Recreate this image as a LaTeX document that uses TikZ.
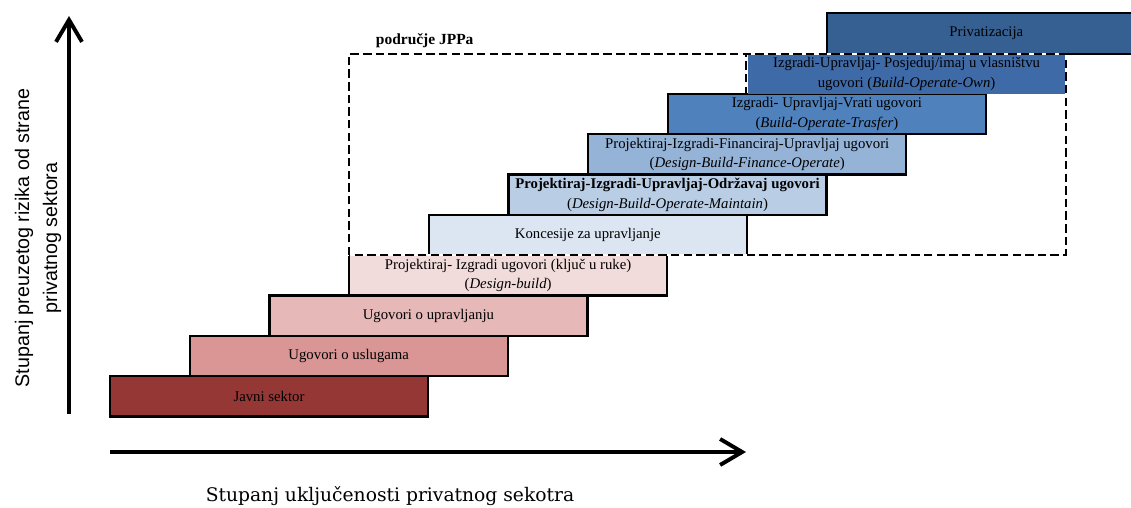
\documentclass[tikz,border=0pt]{standalone}
\usepackage{fontspec}
\setmainfont{Liberation Serif}
\newfontfamily\axisfont{Liberation Sans}
\newfontfamily\axisserif{DejaVu Serif}
\usepackage{tikz}
\usetikzlibrary{arrows.meta}
\usetikzlibrary{positioning}
\usepackage{xcolor}
\definecolor{javnicolor}{RGB}{149,55,53}
\definecolor{uslugecolor}{RGB}{217,150,148}
\definecolor{upravcolor}{RGB}{230,185,184}
\definecolor{dbcolor}{RGB}{242,220,219}
\definecolor{koncolor}{RGB}{220,230,242}
\definecolor{dbomcolor}{RGB}{185,205,229}
\definecolor{dbfocolor}{RGB}{149,179,215}
\definecolor{botcolor}{RGB}{79,129,189}
\definecolor{boocolor}{RGB}{63,106,168}
\definecolor{privcolor}{RGB}{54,96,146}
\tikzstyle{stair} = [draw, line width=1.6pt, minimum width=7.95cm, minimum height=1.0075cm, inner sep=0, align=center, font=\fontsize{10.5}{14}\selectfont]
\tikzstyle{axis} = [line width=3.3pt, -{Straight Barb[length=5.5mm, width=6.5mm, line width=2.8pt]}]

\begin{document}
\begin{tikzpicture}
            \useasboundingbox (0, 0) rectangle (28.275, 12.7);

            % Stairs
            \node[stair, fill=javnicolor] (javni) at (6.725, 2.794) {Javni sektor};
            \node[stair, fill=uslugecolor] (usluge) at (8.718, 3.802) {Ugovori o uslugama};
            \node[stair, fill=upravcolor] (uprav) at (10.71, 4.809) {Ugovori o upravljanju};
            \node[stair, fill=dbcolor] (db) at (12.703, 5.817) {Projektiraj- Izgradi ugovori (ključ u ruke)\\(\textit{Design-build})};
            \node[stair, fill=koncolor] (koncesije) at (14.695, 6.824) {Koncesije za upravljanje};
            \node[stair, fill=dbomcolor] (dbom) at (16.688, 7.832) {\textbf{Projektiraj-Izgradi-Upravljaj-Održavaj ugovori}\\(\textit{Design-Build-Operate-Maintain})};
            \node[stair, fill=dbfocolor] (dbfo) at (18.68, 8.839) {Projektiraj-Izgradi-Financiraj-Upravljaj ugovori\\(\textit{Design-Build-Finance-Operate})};
            \node[stair, fill=botcolor] (bot) at (20.673, 9.847) {Izgradi- Upravljaj-Vrati ugovori\\(\textit{Build-Operate-Trasfer})};
            \node[stair, fill=boocolor, draw=none] (boo) at (22.665, 10.854) {Izgradi-Upravljaj- Posjeduj/imaj u vlasništvu\\ugovori (\textit{Build-Operate-Own})};
            \node[stair, fill=privcolor] (priv) at (24.658, 11.862) {Privatizacija};

            % PPP area
            \coordinate (jppSW) at (8.725, 6.325);
            \coordinate (jppNE) at (26.65, 11.35);
            \coordinate (jppNW) at (8.725, 11.35);
            \draw[white, line width=1.4pt] (jppSW) rectangle (jppNE);
            \draw[line width=1.4pt, dash pattern=on 6pt off 3pt] (jppSW) rectangle (jppNE);
            \draw[line width=1.4pt, dash pattern=on 6pt off 3pt] (boo.south west) -- (boo.north west);
            \node[above right=0.02cm and 0.55cm of jppNW, font=\fontsize{11}{13}\selectfont\bfseries] (jppLabel) {područje JPPa};

            % Axes
            \coordinate (yStart) at (1.725, 2.35);
            \coordinate (yEnd) at (1.725, 12.3);
            \coordinate (xStart) at (2.75, 1.4);
            \coordinate (xEnd) at (18.65, 1.4);
            \draw[axis] (yStart) -- (yEnd);
            \draw[axis] (xStart) -- (xEnd);

            % Axis captions
            \node[rotate=90, align=center, font=\axisfont\fontsize{14}{20}\selectfont] (yLabel) at (0.95, 6.75) {Stupanj preuzetog rizika od strane\\privatnog sektora};
            \node[font=\axisserif\fontsize{13.3}{15}\selectfont] (xLabel) at (9.75, 0.3) {Stupanj uključenosti privatnog sekotra};
        \end{tikzpicture}
\end{document}
